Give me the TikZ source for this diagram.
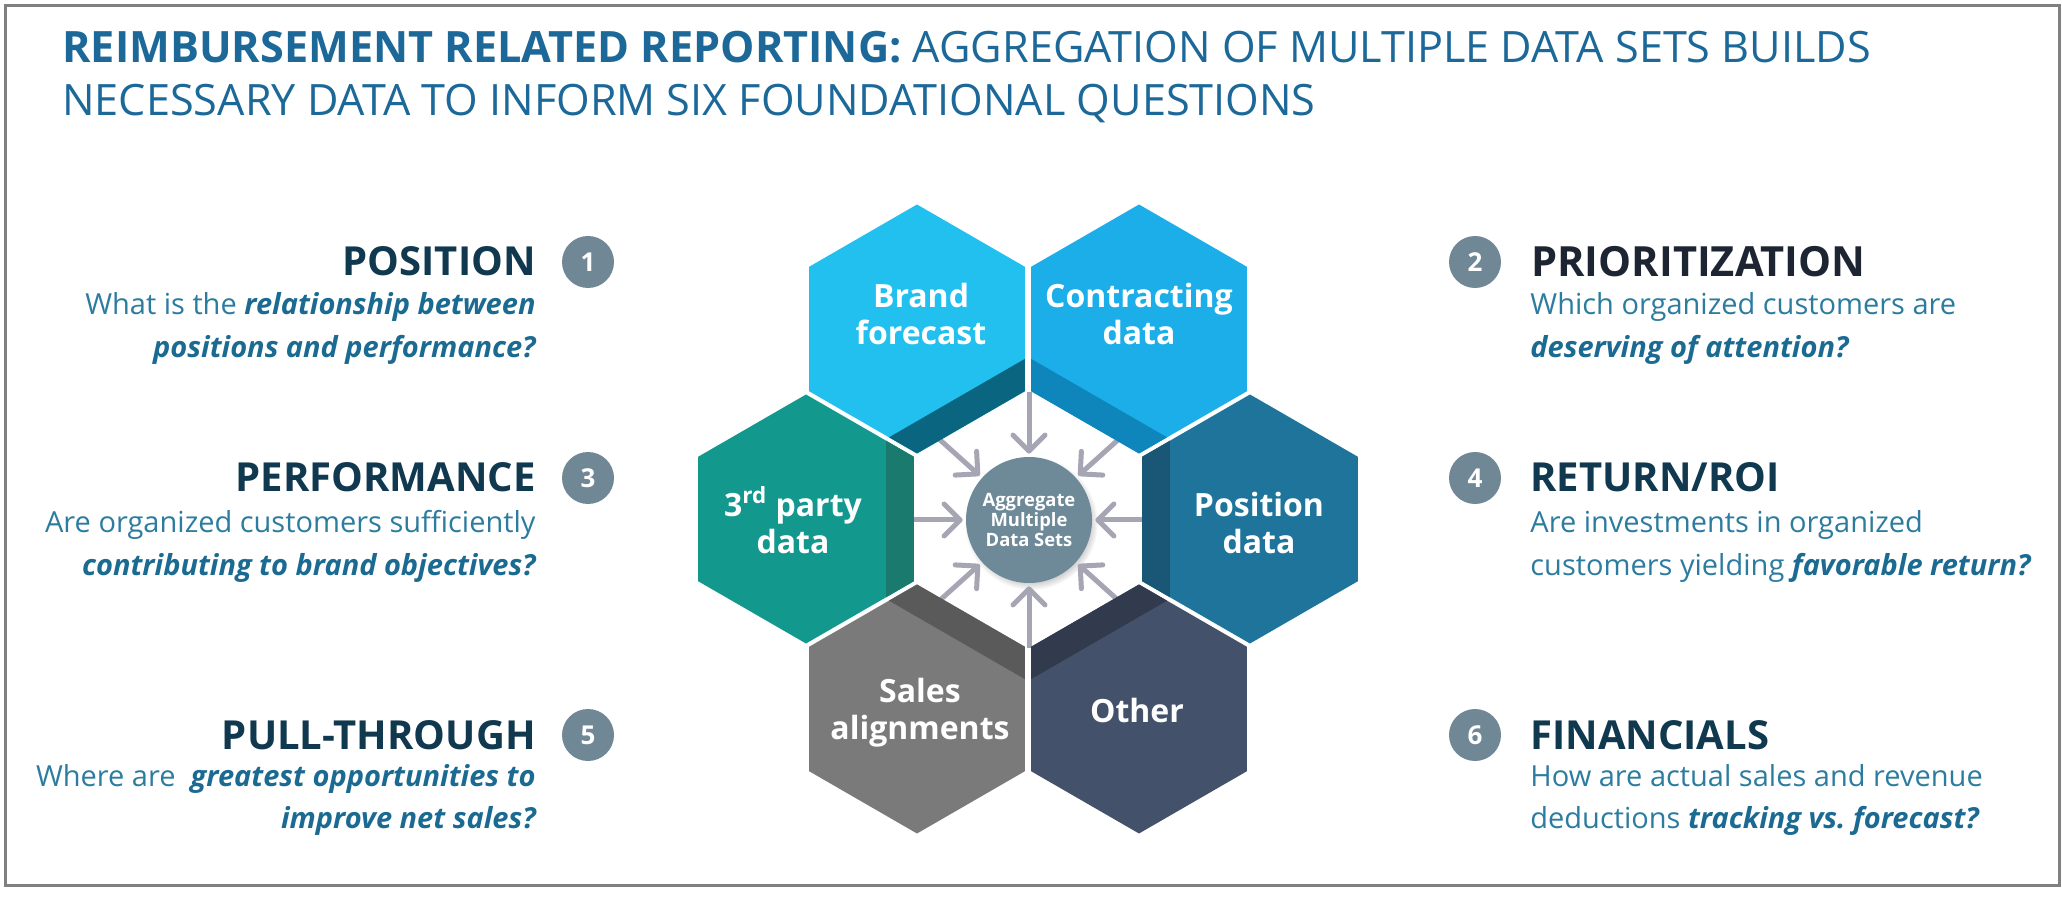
\documentclass[tikz,border=0pt]{standalone}
\usepackage{fontspec}
\setmainfont{Open Sans}
\usetikzlibrary{arrows.meta,shadows,calc}
\definecolor{titleblue}{RGB}{27,104,153}
\definecolor{headnavy}{RGB}{16,56,78}
\definecolor{headdark}{RGB}{30,37,50}
\definecolor{descblue}{RGB}{44,124,160}
\definecolor{descdark}{RGB}{27,106,146}
\definecolor{numgray}{RGB}{112,135,150}
\definecolor{agggray}{RGB}{110,137,152}
\definecolor{arrowgray}{RGB}{165,165,180}
\definecolor{bordergray}{RGB}{128,128,128}
\definecolor{brandC}{RGB}{33,192,238}\definecolor{brandD}{RGB}{10,102,128}
\definecolor{contrC}{RGB}{28,174,232}\definecolor{contrD}{RGB}{14,134,188}
\definecolor{thirdC}{RGB}{19,152,142}\definecolor{thirdD}{RGB}{26,122,110}
\definecolor{posC}{RGB}{30,116,154}\definecolor{posD}{RGB}{26,86,118}
\definecolor{salesC}{RGB}{122,122,122}\definecolor{salesD}{RGB}{90,90,90}
\definecolor{otherC}{RGB}{67,82,106}\definecolor{otherD}{RGB}{50,59,78}
\def\HexR{124.5}
\def\HexA{107.8}
\def\HexT{28}
\newcommand\hexcell[4]{%
  \begin{scope}[shift={#1}]
    \clip (90:\HexR) -- (150:\HexR) -- (210:\HexR) -- (270:\HexR) -- (330:\HexR) -- (30:\HexR) -- cycle;
    \fill[#2] (-150,-150) rectangle (150,150);
    \begin{scope}[rotate=#4]
      \fill[#3] (\HexA-\HexT,-200) rectangle (200,200);
    \end{scope}
  \end{scope}}
\newcommand\qhl[1]{{\bfseries\itshape\color{descdark}#1}}
\begin{document}
\begin{tikzpicture}[x=0.5pt,y=-0.5pt,
  titletext/.style={anchor=base west, inner sep=0, text=titleblue, font=\fontsize{21.6}{26}\selectfont},
  heading/.style={inner sep=0, text=headnavy, font=\bfseries\fontsize{20}{24}\selectfont},
  desc/.style={inner sep=0, text=descblue, font=\fontsize{14.5}{17}\selectfont},
  numc/.style={circle, fill=numgray, minimum size=26pt, inner sep=0, text=white, font=\bfseries\fontsize{13}{15}\selectfont},
  hexlabel/.style={align=center, text=white, inner sep=0, font=\bfseries\fontsize{16}{18.5}\selectfont},
  arr/.style={draw=arrowgray, line width=2.5pt, -{Straight Barb[round, length=8pt, width=16pt]}, shorten >=1.5pt},
  aggc/.style={circle, fill=agggray, minimum size=63pt, inner sep=0, align=center, text=white,
    font=\bfseries\fontsize{9.2}{10}\selectfont,
    circular drop shadow={shadow xshift=1pt, shadow yshift=-1.5pt, shadow scale=1.06, opacity=0.45}}
]
\useasboundingbox (0,0) rectangle (2062,898);
\fill[white] (0,0) rectangle (2062,898);
\draw[bordergray, line width=1.5pt] (5,6) rectangle (2059,885);

% title
\node[titletext] (t1) at (62,63) {\textbf{REIMBURSEMENT RELATED REPORTING:} AGGREGATION OF MULTIPLE DATA SETS BUILDS};
\node[titletext] (t2) at (62,116) {NECESSARY DATA TO INFORM SIX FOUNDATIONAL QUESTIONS};

% centre
\node[aggc] (agg) at (1029,520) {Aggregate\\Multiple\\Data Sets};
\foreach \i/\a/\r in {1/-90/128, 2/-138/126, 3/-42/126, 4/180/118, 5/0/118, 6/138/126, 7/42/126, 8/90/128}{
  \coordinate (s\i) at ($(agg.center)+(\a:\r)$);
  \draw[arr] (s\i) -- (agg);
}

% hexagons
\hexcell{(917,329)}{brandC}{brandD}{-60}
\hexcell{(1139,329)}{contrC}{contrD}{-120}
\hexcell{(806,519)}{thirdC}{thirdD}{0}
\hexcell{(1250,519)}{posC}{posD}{180}
\hexcell{(917,709)}{salesC}{salesD}{60}
\hexcell{(1139,709)}{otherC}{otherD}{120}

\node[hexlabel] (brand) at (921,314) {Brand\\forecast};
\node[hexlabel] (contr) at (1139,314) {Contracting\\data};
\node[hexlabel] (third) at (793,520) {3\textsuperscript{rd} party\\data};
\node[hexlabel] (posn) at (1259,523) {Position\\data};
\node[hexlabel] (sales) at (920,713) {Sales\\alignments};
\node[hexlabel] (other) at (1137,710) {Other};

% left questions
\node[numc] (n1) at (588,262) {1};
\node[heading, anchor=base east] (h1) at (536,276) {POSITION};
\node[desc, anchor=base east] (d1a) at (536,315) {What is the \qhl{relationship between}};
\node[desc, anchor=base east] (d1b) at (536,358) {\qhl{positions and performance?}};

\node[numc] (n3) at (588,478) {3};
\node[heading, anchor=base east] (h3) at (536,492) {PERFORMANCE};
\node[desc, anchor=base east] (d3a) at (536,532) {Are organized customers sufficiently};
\node[desc, anchor=base east] (d3b) at (536,575) {\qhl{contributing to brand objectives?}};

\node[numc] (n5) at (588,735) {5};
\node[heading, anchor=base east] (h5) at (536,749) {PULL-THROUGH};
\node[desc, anchor=base east] (d5a) at (536,786) {Where are\ \ \qhl{greatest opportunities to}};
\node[desc, anchor=base east] (d5b) at (536,828) {\qhl{improve net sales?}};

% right questions
\node[numc] (n2) at (1475,262) {2};
\node[heading, anchor=base west, text=headdark, font=\bfseries\fontsize{20.8}{25}\selectfont] (h2) at (1531,277) {PRIORITIZATION};
\node[desc, anchor=base west] (d2a) at (1530,315) {Which organized customers are};
\node[desc, anchor=base west] (d2b) at (1530,358) {\qhl{deserving of attention?}};

\node[numc] (n4) at (1475,478) {4};
\node[heading, anchor=base west] (h4) at (1530,492) {RETURN/ROI};
\node[desc, anchor=base west] (d4a) at (1530,532) {Are investments in organized};
\node[desc, anchor=base west] (d4b) at (1530,575) {customers yielding \qhl{favorable return?}};

\node[numc] (n6) at (1475,735) {6};
\node[heading, anchor=base west] (h6) at (1530,749) {FINANCIALS};
\node[desc, anchor=base west] (d6a) at (1530,786) {How are actual sales and revenue};
\node[desc, anchor=base west] (d6b) at (1530,828) {deductions \qhl{tracking vs.\ forecast?}};
\end{tikzpicture}
\end{document}
